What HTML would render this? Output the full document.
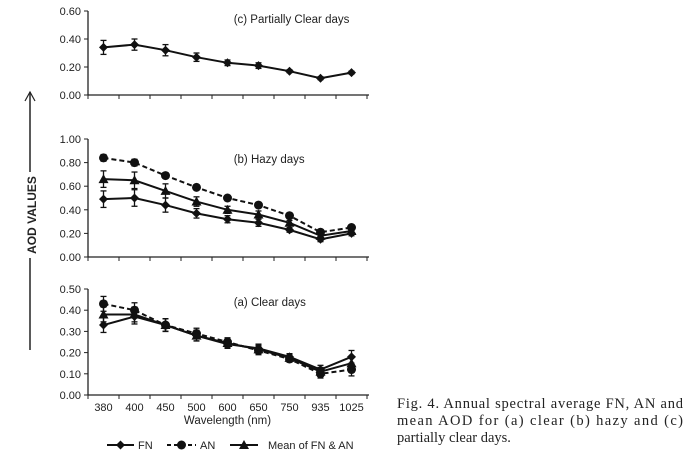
<!DOCTYPE html>
<html><head><meta charset="utf-8"><style>
body{margin:0;background:#fff;width:696px;height:467px;overflow:hidden}
svg{font-family:"Liberation Sans",sans-serif}
</style></head><body>
<svg id="c" width="696" height="467">
<g>
<text x="36" y="215" transform="rotate(-90 36 215)" font-size="12" font-weight="bold" text-anchor="middle" fill="#222">AOD VALUES</text>
<line x1="30" y1="92" x2="30" y2="172" stroke="#222" stroke-width="1.5"/>
<polyline points="25,101 30,92 35,101" fill="none" stroke="#222" stroke-width="1.2"/>
<line x1="30" y1="258" x2="30" y2="350" stroke="#222" stroke-width="1.5"/>
</g>
<text x="397" y="408" font-family="Liberation Serif,serif" font-size="14.5" textLength="286" lengthAdjust="spacing" fill="#222">Fig. 4. Annual spectral average FN, AN and</text>
<text x="397" y="425" font-family="Liberation Serif,serif" font-size="14.5" textLength="286" lengthAdjust="spacing" fill="#222">mean AOD for (a) clear (b) hazy and (c)</text>
<text x="397" y="442" font-family="Liberation Serif,serif" font-size="14.5" fill="#222">partially clear days.</text>
</svg>
<script>
const categories=["380","400","450","500","600","650","750","935","1025"];
const cFN=[0.34,0.36,0.32,0.27,0.23,0.21,0.17,0.12,0.16];
const cErr=[0.05,0.04,0.04,0.03,0.02,0.02,0.01,0.01,0.01];
const bFN=[0.49,0.50,0.44,0.37,0.32,0.29,0.23,0.15,0.20];
const bAN=[0.84,0.80,0.69,0.59,0.50,0.44,0.35,0.21,0.25];
const bMean=[0.66,0.65,0.56,0.47,0.40,0.36,0.29,0.18,0.22];
const bErr=[0.07,0.07,0.06,0.04,0.03,0.03,0.02,0.02,0.02];
const aFN=[0.33,0.37,0.33,0.28,0.24,0.22,0.18,0.12,0.18];
const aAN=[0.43,0.40,0.33,0.29,0.25,0.21,0.17,0.10,0.12];
const aMean=[0.38,0.38,0.33,0.28,0.245,0.215,0.175,0.11,0.15];
const aErr=[0.035,0.035,0.03,0.025,0.02,0.02,0.015,0.02,0.03];
const cTicks=["0.00","0.20","0.40","0.60"];
const bTicks=["0.00","0.20","0.40","0.60","0.80","1.00"];
const aTicks=["0.00","0.10","0.20","0.30","0.40","0.50"];
const svg=document.getElementById('c');const NS="http://www.w3.org/2000/svg";
function mk(t,a,p){const e=document.createElementNS(NS,t);for(const k in a)e.setAttribute(k,a[k]);(p||svg).appendChild(e);return e;}
const X0=88,STEP=31;
function xs(i){return X0+STEP*(i+0.5);}
function panel(name,top,bot,max,ticks,title,titleY,series,showX){
 const g=mk('g',{});
 
 
 const ys=v=>bot-(v/max)*(bot-top);
 mk('line',{x1:X0,y1:top,x2:X0,y2:bot,stroke:'#222','stroke-width':1.3},g);
 mk('line',{x1:X0,y1:bot,x2:X0+STEP*9+2,y2:bot,stroke:'#222','stroke-width':1.3},g);
 ticks.forEach((t,i)=>{const v=max*i/(ticks.length-1);const y=ys(v);
  mk('line',{x1:X0-4,y1:y,x2:X0,y2:y,stroke:'#222'},g);
  const tx=mk('text',{x:X0-7,y:y+4,'font-size':11,'text-anchor':'end',fill:'#222'},g);tx.textContent=t;
  
  });
 for(let i=0;i<=9;i++)mk('line',{x1:X0+STEP*i,y1:bot,x2:X0+STEP*i,y2:bot+4,stroke:'#222'},g);
 if(showX)categories.forEach((c,i)=>{const tx=mk('text',{x:xs(i),y:bot+16,'font-size':11,'text-anchor':'middle',fill:'#222'},g);tx.textContent=c;
  
  });
 const tt=mk('text',{x:X0+STEP*4.7,y:titleY,'font-size':11.5,fill:'#222'},g);tt.textContent=title;
 
 
 series.forEach(s=>{
  const sg=mk('g',{},g);
  
  
  mk('polyline',{points:s.v.map((v,i)=>xs(i)+','+ys(v)).join(' '),fill:'none',stroke:'#111','stroke-width':2,'stroke-dasharray':s.dash||'none'},sg);
  if(s.err)s.v.forEach((v,i)=>{const x=xs(i),e=s.err[i];
   mk('line',{x1:x,y1:ys(v-e),x2:x,y2:ys(v+e),stroke:'#111','stroke-width':1.3},sg);
   mk('line',{x1:x-3,y1:ys(v-e),x2:x+3,y2:ys(v-e),stroke:'#111','stroke-width':1.3},sg);
   mk('line',{x1:x-3,y1:ys(v+e),x2:x+3,y2:ys(v+e),stroke:'#111','stroke-width':1.3},sg);});
  s.v.forEach((v,i)=>marker(s.m,xs(i),ys(v),sg));
 });
}
function marker(m,x,y,p){
 if(m==='d')mk('polygon',{points:`${x},${y-4.5} ${x+4.5},${y} ${x},${y+4.5} ${x-4.5},${y}`,fill:'#111'},p);
 else if(m==='o')mk('circle',{cx:x,cy:y,r:4.5,fill:'#111'},p);
 else mk('polygon',{points:`${x},${y-5} ${x+5},${y+4} ${x-5},${y+4}`,fill:'#111'},p);
}
panel('panel-c-partially-clear',11,95,0.6,cTicks,'(c) Partially Clear days',23,[{name:'series-c',v:cFN,err:cErr,m:'d'}],false);
panel('panel-b-hazy',139,257,1.0,bTicks,'(b) Hazy days',163,[
 {name:'series-b-an',v:bAN,err:bErr.map(e=>e*0.4),m:'o',dash:'5,3'},
 {name:'series-b-mean',v:bMean,err:bErr,m:'t'},
 {name:'series-b-fn',v:bFN,err:bErr,m:'d'}],false);
panel('panel-a-clear',289,395,0.5,aTicks,'(a) Clear days',306,[
 {name:'series-a-an',v:aAN,err:aErr,m:'o',dash:'5,3'},
 {name:'series-a-mean',v:aMean,err:aErr,m:'t'},
 {name:'series-a-fn',v:aFN,err:aErr,m:'d'}],true);
const xl=mk('text',{x:X0+STEP*4.5,y:424,'font-size':11.5,'text-anchor':'middle',fill:'#222'});xl.textContent='Wavelength (nm)';


const lg=mk('g',{});


[[107,'FN','d','none',138],[135+0,'AN','o','4,3',200],[230,'Mean of FN & AN','t','none',268]].forEach((l,k)=>{
 const x1=[107,167,230][k],x2=[134,196,258][k];
 const e=mk('g',{},lg);
 
 
 mk('line',{x1:x1,y1:445,x2:x2,y2:445,stroke:'#111','stroke-width':2,'stroke-dasharray':l[3]},e);
 marker(l[2],(x1+x2)/2,445,e);
 const t=mk('text',{x:l[4],y:449,'font-size':11,fill:'#222'},e);t.textContent=l[1];
});
</script>
</body></html>
